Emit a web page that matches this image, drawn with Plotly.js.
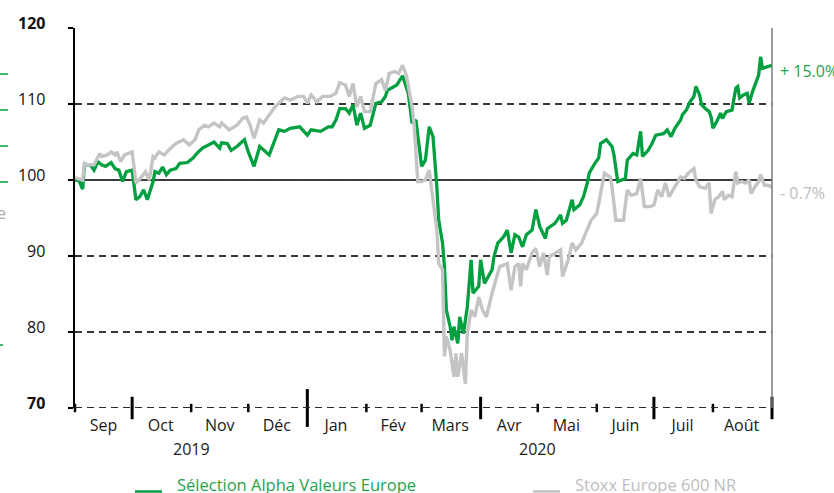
<!DOCTYPE html>
<html>
<head>
<meta charset="utf-8">
<script src="https://cdn.plot.ly/plotly-3.0.1.min.js"></script>
<style>html,body{margin:0;padding:0;background:#fff;}#chart{width:834px;height:493px;}</style>
</head>
<body>
<div id="chart"></div>
<script>
// ---- data (days counted from 1 Sep 2019) ----
const seriesNames = ['Sélection Alpha Valeurs Europe', 'Stoxx Europe 600 NR'];
const finalPerf = ['+ 15.0%', '- 0.7%'];

const greenDays = [0,2,4,5,8,10,12,14,16,19,21,23,25,27,30,32,34,36,38,41,42,44,46,48,50,53,55,59,62,64,67,70,73,76,77,80,82,85,87,89,91,94,97,99,102,105,107,110,113,118,122,124,129,133,135,137,139,142,144,146,148,150,152,155,158,161,163,164,168,169,172,175,177,179,182,184,186,188,190,191,193,194,195,197,198,199,201,202,204,206,208,209,212,213,215,216,219,220,222,225,227,229,231,233,235,237,240,242,244,247,248,252,255,256,258,261,262,265,267,269,270,273,275,276,279,282,283,285,289,290,293,295,297,298,301,303,305,309,311,313,315,318,319,321,323,325,326,328,329,331,333,334,335,337,339,340,342,345,347,348,349,351,353,354,356,359,360,361,364,366];
const greenValues = [100.0,100.0,98.8,102.0,102.0,101.3,102.4,102.0,101.8,102.3,101.5,101.3,99.8,101.1,101.3,97.4,97.8,98.7,97.4,99.8,101.1,100.9,101.7,100.7,101.3,101.5,102.2,102.3,102.9,103.5,104.2,104.6,105.0,104.2,104.9,104.8,103.9,104.4,104.8,105.3,103.7,101.8,104.4,103.9,103.3,105.3,106.6,106.4,106.8,107.0,105.9,106.6,106.4,107.0,107.0,107.9,109.4,109.4,108.8,109.9,107.2,108.8,106.8,107.2,110.1,110.3,111.0,111.8,112.3,112.5,113.7,111.4,107.5,107.9,101.8,102.6,107.0,105.7,99.1,94.7,91.7,88.6,82.9,80.7,78.9,80.7,78.5,82.0,79.8,83.3,89.5,85.1,86.0,89.5,86.4,86.8,88.2,89.9,91.7,92.5,93.4,90.4,92.8,92.5,91.2,92.8,93.4,96.1,93.9,92.3,93.6,94.3,95.4,94.3,94.7,97.4,96.1,96.7,97.8,99.6,100.9,102.2,102.9,104.8,105.3,104.4,103.3,99.8,100.2,102.6,103.5,103.3,106.4,103.1,103.9,104.8,105.9,106.1,106.6,105.7,106.8,107.9,108.6,109.2,110.3,111.0,112.3,111.2,109.9,109.4,109.0,108.3,106.8,107.7,108.8,108.1,109.0,109.2,112.1,112.3,110.8,111.2,111.4,110.1,111.8,113.8,116.2,114.7,114.9,115.1];

const grayDays = [0,2,4,5,7,10,13,14,17,19,21,22,24,26,30,32,35,37,39,41,42,44,47,49,53,57,60,63,65,68,70,73,76,77,81,85,88,90,92,94,97,99,102,105,107,110,113,117,120,122,124,127,130,134,137,139,142,144,146,148,150,152,155,158,161,163,165,168,170,172,174,176,177,178,180,182,184,186,188,190,191,193,194,195,197,199,200,201,203,205,206,208,210,212,214,216,219,220,223,227,229,231,233,234,235,237,240,242,244,246,248,249,252,255,256,259,261,263,266,269,271,274,276,278,281,282,284,288,290,292,295,297,299,302,304,306,308,310,312,315,318,320,322,325,326,328,331,333,334,336,338,340,341,343,345,347,348,350,352,354,355,357,359,360,362,364,366];
const grayValues = [100.3,100.2,100.0,102.2,102.0,102.0,103.5,103.1,103.3,103.7,103.3,103.7,102.4,103.3,103.7,99.6,100.4,101.1,100.0,103.1,102.9,103.7,103.3,103.9,104.8,105.3,104.6,105.3,106.6,107.2,107.0,107.5,107.0,107.5,106.6,107.2,108.1,108.3,107.2,105.5,107.9,107.5,108.6,109.6,110.1,110.8,110.5,111.0,111.0,110.1,111.2,110.3,111.0,111.0,111.4,112.8,112.5,111.0,112.7,109.6,111.0,109.0,109.0,112.7,113.2,111.8,114.0,114.3,114.0,115.1,113.8,111.0,109.6,107.5,99.8,99.8,100.0,101.3,96.9,93.4,89.0,88.2,76.8,79.4,77.6,74.1,77.2,74.1,77.2,73.2,79.8,82.9,82.0,84.6,82.9,82.0,85.1,86.0,88.6,89.0,85.5,88.6,89.0,86.0,89.0,88.2,90.4,91.0,88.6,90.4,87.5,89.9,90.4,90.8,87.3,89.5,91.7,90.8,91.7,93.4,94.7,95.6,98.2,100.9,100.4,99.1,94.7,94.7,98.7,98.0,98.2,100.2,96.5,96.5,96.7,98.7,97.8,99.6,97.8,99.1,100.4,100.2,100.9,101.5,100.0,99.1,98.9,99.6,95.6,97.4,97.8,98.5,97.4,98.0,97.8,101.1,99.6,99.8,99.6,100.0,98.2,99.1,99.8,100.7,99.3,99.3,99.1];

const monthLabels = ['Sep','Oct','Nov','Déc','Jan','Fév','Mars','Avr','Mai','Juin','Juil','Août'];
const monthMids = ['2019-09-16','2019-10-16','2019-11-16','2019-12-16','2020-01-16','2020-02-15','2020-03-16','2020-04-16','2020-05-16','2020-06-16','2020-07-16','2020-08-16'];
const monthStarts = ['2019-09-01','2019-11-01','2019-12-01','2020-02-01','2020-03-01','2020-05-01','2020-06-01','2020-08-01'];
const quarterStarts = ['2019-10-01','2020-04-01','2020-07-01','2020-09-01'];
const yearStarts = ['2020-01-01'];
const yearLabels = ['2019','2020'];
const yearCenters = ['2019-11-01','2020-05-01'];
const yTicks = [70,80,90,100,110,120];
const baseValue = 100;

// ---- helpers / styles ----
function toDate(d){ return new Date(Date.UTC(2019,8,1) + d*86400000).toISOString().slice(0,10); }
const GREEN = '#00a040', GREEN_TXT = '#1fa34c', GRAY = '#c4c4c4', GRAY_TXT = '#bdbdbd';
const FONT = 'Open Sans, sans-serif';
const yRange = [70,120];

function tickTrace(dates, size, width){
  return {x: dates, y: dates.map(()=>yRange[0]), type:'scatter', mode:'markers', cliponaxis:false, hoverinfo:'skip',
          marker:{symbol:'line-ns', size:size, color:'#000', opacity:1, line:{color:'#000', width:width}}};
}

const traces = [
  {x: greenDays.map(toDate), y: greenValues, type:'scatter', mode:'lines', name: seriesNames[0],
   line:{color:GREEN, width:3.3}, hoverinfo:'skip'},
  {x: grayDays.map(toDate), y: grayValues, type:'scatter', mode:'lines', name: seriesNames[1],
   line:{color:GRAY, width:3.4}, hoverinfo:'skip'},
  tickTrace(monthStarts, 6, 2.5),
  tickTrace(quarterStarts, 16, 3),
  tickTrace(yearStarts, 27, 3)
];

const annotations = [];
yTicks.forEach(v=>annotations.push({
  text: (v===yRange[0]||v===yRange[1]) ? '<b>'+v+'</b>' : String(v),
  x:-0.0402, xref:'paper', y:v, yref:'y', yshift:5, xanchor:'right', yanchor:'middle', showarrow:false,
  font:{family:FONT, size:16, color:'#111'}}));
yearLabels.forEach((t,i)=>annotations.push({text:t, x:yearCenters[i], xref:'x', y:-0.1066, yref:'paper',
  xanchor:'center', yanchor:'middle', showarrow:false, font:{family:FONT, size:16, color:'#1a1a1a'}}));
annotations.push({text:finalPerf[0], x:1.0086, xref:'paper', y:greenValues[greenValues.length-1], yref:'y', yshift:-6,
  xanchor:'left', yanchor:'middle', showarrow:false, font:{family:FONT, size:16, color:GREEN_TXT}});
annotations.push({text:finalPerf[1], x:1.0086, xref:'paper', y:grayValues[grayValues.length-1], yref:'y', yshift:-6,
  xanchor:'left', yanchor:'middle', showarrow:false, font:{family:FONT, size:16, color:GRAY_TXT}});
annotations.push({text:seriesNames[0], x:0.1435, xref:'paper', y:-0.2026, yref:'paper',
  xanchor:'left', yanchor:'middle', showarrow:false, font:{family:FONT, size:16.5, color:GREEN_TXT}});
annotations.push({text:seriesNames[1], x:0.7145, xref:'paper', y:-0.2026, yref:'paper',
  xanchor:'left', yanchor:'middle', showarrow:false, font:{family:FONT, size:16.5, color:GRAY_TXT}});
annotations.push({text:'e', x:-0.0961, xref:'paper', y:0.513, yref:'paper',
  xanchor:'right', yanchor:'middle', showarrow:false, font:{family:FONT, size:16, color:'#aaaaaa'}});

const shapes = [
  {type:'line', xref:'paper', x0:0, x1:1, yref:'y', y0:baseValue, y1:baseValue, line:{color:'#000', width:1.5}, layer:'between'},
  {type:'line', xref:'paper', x0:0, x1:1, yref:'paper', y0:0.0013, y1:0.0013, line:{color:'#2a2a2a', width:1, dash:'7px,5px'}, layer:'above'},
  {type:'line', xref:'paper', x0:1, x1:1, yref:'paper', y0:0, y1:1, line:{color:'#7a7a7a', width:1.5}},
  {type:'line', xref:'paper', x0:0.0861, x1:0.1248, yref:'paper', y0:-0.2197, y1:-0.2197, line:{color:GREEN, width:2.5}},
  {type:'line', xref:'paper', x0:0.6571, x1:0.6958, yref:'paper', y0:-0.2197, y1:-0.2197, line:{color:GRAY, width:2.5}}
];
[0.8789,0.7842,0.6895,0.5947].forEach(yv=>shapes.push({type:'line', xref:'paper', x0:-0.1076, x1:-0.0961, yref:'paper', y0:yv, y1:yv, line:{color:GREEN, width:1.5}}));
shapes.push({type:'line', xref:'paper', x0:-0.1076, x1:-0.1033, yref:'paper', y0:0.1658, y1:0.1658, line:{color:GREEN, width:1.5}});

const layout = {
  width:834, height:493,
  margin:{l:75, r:62, t:28, b:85},
  paper_bgcolor:'#fff', plot_bgcolor:'#fff',
  showlegend:false,
  font:{family:FONT, color:'#1a1a1a'},
  xaxis:{type:'date', range:['2019-09-01','2020-09-01'], tickmode:'array', tickvals:monthMids, ticktext:monthLabels,
         ticks:'', showgrid:false, zeroline:false, showline:false, tickfont:{family:FONT, size:16, color:'#1a1a1a'},
         ticklabelstandoff:6, fixedrange:true},
  yaxis:{range:yRange, tickmode:'array', tickvals:yTicks, showticklabels:false,
         showgrid:true, gridcolor:'#3a3a3a', gridwidth:1.2, griddash:'7px,5px',
         zeroline:false, showline:true, linecolor:'#000', linewidth:2,
         ticks:'outside', ticklen:5, tickwidth:1.5, tickcolor:'#000', fixedrange:true},
  annotations:annotations,
  shapes:shapes
};

Plotly.newPlot('chart', traces, layout, {displayModeBar:false, staticPlot:true});
</script>
</body>
</html>
